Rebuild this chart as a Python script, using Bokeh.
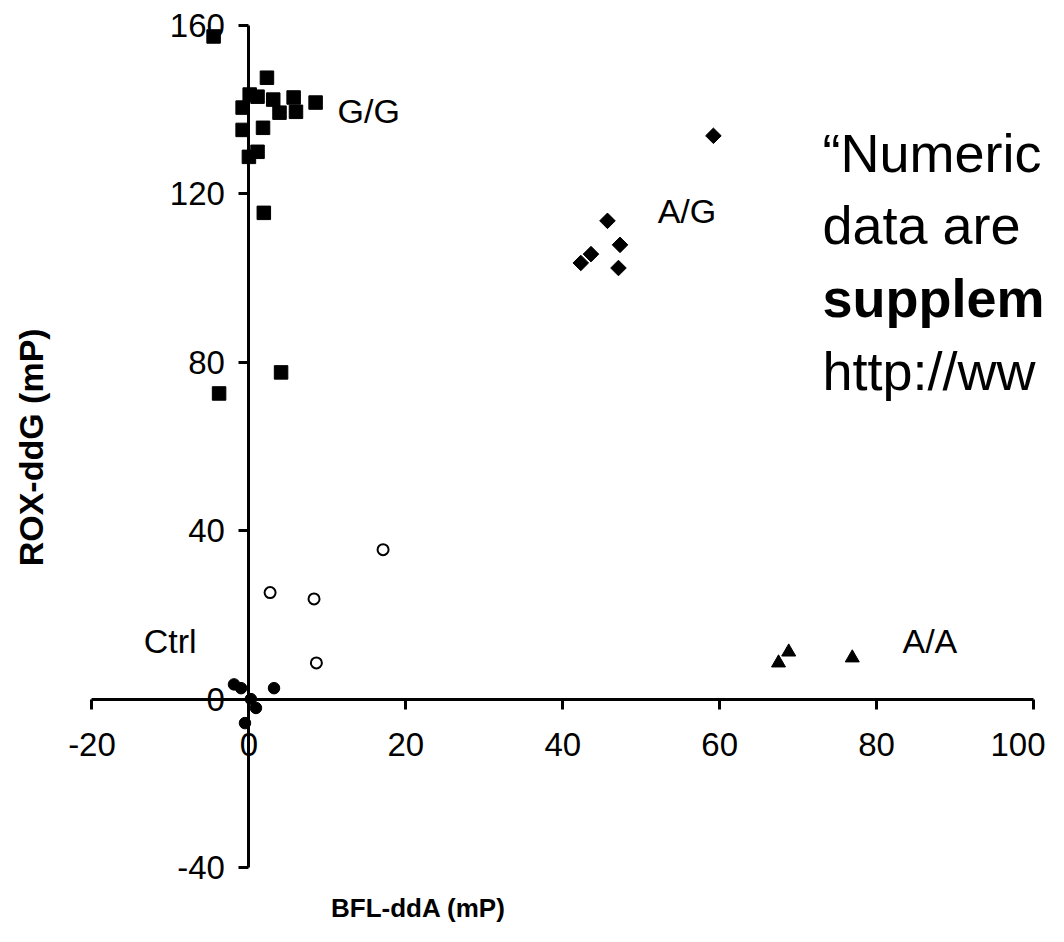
import numpy as np
from bokeh.plotting import figure
from bokeh.models import Range1d, FixedTicker, Label, CustomJSTickFormatter, AllLabels
from bokeh.embed import file_html
from bokeh.resources import INLINE

# ---- data ----
gg_x = [-4.5, 2.3, 0.1, 1.1, -0.8, 3.1, 3.9, 5.7, 6.0, 8.5, -0.8, 1.8, 0.0, 1.1, 1.9, -3.8, 4.1]
gg_y = [157.4, 147.6, 143.6, 143.1, 140.5, 142.4, 139.3, 142.9, 139.5, 141.7, 135.2, 135.7, 128.8, 130.0, 115.5, 72.6, 77.6]

ag_x = [59.2, 45.7, 47.3, 43.6, 42.3, 47.1]
ag_y = [133.8, 113.6, 107.9, 105.7, 103.6, 102.4]

aa_x = [67.5, 68.8, 76.9]
aa_y = [8.6, 11.2, 9.8]

ctrl_x = [-1.9, -1.0, 3.2, 0.25, 0.9, -0.5]
ctrl_y = [3.5, 2.6, 2.6, 0.0, -2.1, -5.7]

open_x = [2.7, 8.3, 8.6, 17.1]
open_y = [25.3, 23.8, 8.6, 35.5]

x_ticks = [-20, 0, 20, 40, 60, 80, 100]
y_ticks = [-40, 0, 40, 80, 120, 160]

group_labels = ["G/G", "A/G", "Ctrl", "A/A"]
group_label_x = [11.3, 52.1, -13.4, 83.3]
group_label_y = [139.8, 115.9, 13.8, 13.7]

note_lines = ["\u201cNumeric", "data are", "supplem", "http://ww"]
note_styles = ["normal", "normal", "bold", "normal"]
note_y = [129.8, 112.5, 95.2, 78.0]

FONT = "Liberation Sans"

p = figure(width=1048, height=926, output_backend="svg", toolbar_location=None,
           x_range=Range1d(-31.66, 101.91), y_range=Range1d(-54.01, 165.94),
           min_border=0, min_border_left=0, min_border_right=0,
           min_border_top=0, min_border_bottom=0)
p.outline_line_color = None
p.grid.visible = False
p.background_fill_color = "white"
p.border_fill_color = "white"

for ax, ticks, bounds in ((p.xaxis, x_ticks, (-20, 100)), (p.yaxis, y_ticks, (-40, 160))):
    ax.fixed_location = 0
    ax.bounds = bounds
    ax.ticker = FixedTicker(ticks=ticks)
    ax.major_label_policy = AllLabels()
    ax.minor_tick_line_color = None
    ax.major_tick_in = 0
    ax.major_tick_out = 10
    ax.axis_line_width = 3
    ax.major_tick_line_width = 3
    ax.axis_line_color = "black"
    ax.major_tick_line_color = "black"
    ax.major_label_text_font = FONT
    ax.major_label_text_font_size = "33px"
    ax.major_label_text_color = "black"

# plain hyphen-minus labels; the x labels at the axes crossing and at the right edge are drawn as labels
p.yaxis.formatter = CustomJSTickFormatter(code="return String(Math.round(tick));")
p.xaxis.formatter = CustomJSTickFormatter(
    code="var t = Math.round(tick); return (t == 0 || t == 100) ? '' : String(t);")
p.xaxis.major_label_standoff = 24
p.yaxis.major_label_standoff = 14
p.add_layout(Label(x=x_ticks[1], y=0, text=str(x_ticks[1]), text_font=FONT,
                   text_font_size="33px", text_color="black", text_align="center",
                   text_baseline="top", y_offset=-34))
p.add_layout(Label(x=x_ticks[-1], y=0, text=str(x_ticks[-1]), text_font=FONT,
                   text_font_size="33px", text_color="black", text_align="right",
                   text_baseline="top", x_offset=12, y_offset=-34))

p.scatter(gg_x, gg_y, marker="square", size=13.5, color="black")
p.scatter(ag_x, ag_y, marker="square", angle=np.pi / 4, size=11, color="black")
p.scatter(aa_x, aa_y, marker="triangle", size=14, color="black")
p.scatter(ctrl_x, ctrl_y, marker="circle", size=11.5, color="black")
p.scatter(open_x, open_y, marker="circle", size=11, fill_color="white",
          line_color="black", line_width=2)

for t, x, y in zip(group_labels, group_label_x, group_label_y):
    p.add_layout(Label(x=x, y=y, text=t, text_font=FONT, text_font_size="34px",
                       text_align="left", text_baseline="middle", text_color="black"))

p.add_layout(Label(x=21.6, y=-49.7, text="BFL-ddA (mP)", text_font=FONT,
                   text_font_size="26px", text_font_style="bold", text_color="black",
                   text_align="center", text_baseline="middle"))
p.add_layout(Label(x=-27.8, y=59.8, text="ROX-ddG (mP)", text_font=FONT,
                   text_font_size="34px", text_font_style="bold", angle=np.pi / 2,
                   text_color="black", text_align="center", text_baseline="middle"))

for t, st, y in zip(note_lines, note_styles, note_y):
    p.add_layout(Label(x=73.1, y=y, text=t, text_font=FONT, text_font_size="54px",
                       text_font_style=st, text_align="left",
                       text_baseline="alphabetic", text_color="black"))

open("out.html", "w").write(file_html(p, INLINE))
